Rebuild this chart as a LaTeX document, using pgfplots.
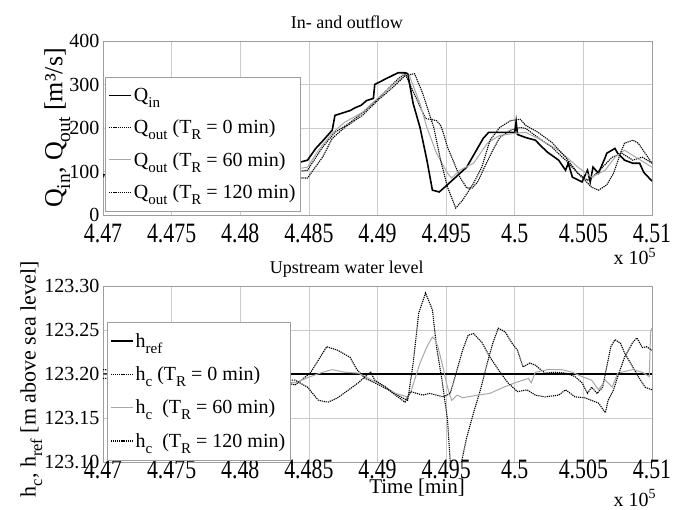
\documentclass[border=0pt]{standalone}
\usepackage{fontspec}
\setmainfont{Liberation Serif}
\newfontfamily\xtfont{Liberation Serif}[FakeStretch=0.78]
\usepackage{pgfplots}
\pgfplotsset{compat=1.18}

\newcommand{\sub}[1]{\raisebox{-0.3em}{\scalebox{0.75}{#1}}}
\newcommand{\fs}[1]{\fontsize{#1}{#1}\selectfont}

\definecolor{gridc}{gray}{0.80}
\definecolor{boxc}{gray}{0.62}
\definecolor{linegray}{gray}{0.66}

\pgfplotsset{
 common/.style={
  scale only axis, width=549bp,
  xmin=4.47, xmax=4.51,
  xtick={4.47,4.475,4.48,4.485,4.49,4.495,4.5,4.505,4.51},
  xticklabels={4.47,4.475,4.48,4.485,4.49,4.495,4.5,4.505,4.51},
  grid=major, grid style={gridc, line width=0.6bp},
  axis line style={boxc, line width=0.6bp},
  major tick length=0pt,
  xticklabel style={font=\xtfont\fs{28bp}},
  yticklabel style={font=\fs{20bp}},
  title style={font=\fs{18bp}, at={(0.444,1)}, anchor=base, yshift=7bp},
  legend cell align=left,
  legend style={draw=boxc, fill=white, font=\fs{20bp}, row sep=13bp, inner xsep=3bp, inner ysep=9bp},
  legend image code/.code={\draw[##1] (0bp,0bp) -- (22bp,0bp);},
 },
 qin/.style={black, line width=1.6bp},
 dots/.style={black, line width=1.1bp, dash pattern=on 1.2bp off 0.9bp},
 grayl/.style={linegray, line width=1bp},
}

\begin{document}
\begin{tikzpicture}
%================ TOP =================
\begin{axis}[common,
  at={(103bp,295bp)}, anchor=south west, height=174bp,
  ymin=0, ymax=400,
  ytick={0,100,200,300,400}, yticklabels={0,100,200,300,400},
  xticklabel style={yshift=-5.3bp},
  title={In- and outflow},
  ylabel={Q\sub{in}, Q\sub{out} [m³/s]},
  ylabel style={font=\fs{26bp}, at={(axis description cs:-0.053,0.5)}, anchor=south},
  legend style={at={(0.004,0.793)}, anchor=north west},
]
\addplot[qin] table {
4.4700 92
4.4730 95
4.4780 100
4.4830 110
4.4849 126
4.4855 153
4.4860 170
4.4867 195
4.4869 229
4.4876 236
4.4880 240
4.4884 247
4.4888 252
4.4892 263
4.4897 268
4.4898 300
4.4906 313
4.4915 327
4.4920 327
4.4922 325
4.4926 256
4.4931 201
4.4936 126
4.4940 57
4.4945 53
4.4949 64
4.4965 110
4.4977 176
4.4981 190
4.5000 190
4.5001 215
4.5002 185
4.5008 178
4.5015 172
4.5020 156
4.5024 144
4.5032 126
4.5037 103
4.5039 119
4.5042 87
4.5049 76
4.5053 103
4.5055 76
4.5057 110
4.5061 96
4.5066 133
4.5067 142
4.5073 153
4.5075 142
4.5080 126
4.5086 119
4.5091 119
4.5094 98
4.5100 78
};
\addlegendentry{Q\sub{in}}
\addplot[dots] table {
4.4700 88
4.4830 95
4.4849 103
4.4860 156
4.4869 190
4.4879 210
4.4891 240
4.4903 275
4.4915 313
4.4920 325
4.4935 222
4.4943 217
4.4946 206
4.4948 188
4.4951 156
4.4955 126
4.4960 87
4.4965 62
4.4969 62
4.4973 76
4.4978 110
4.4984 149
4.4989 178
4.4997 195
4.5004 201
4.5008 199
4.5017 178
4.5027 156
4.5037 126
4.5046 96
4.5053 80
4.5056 85
4.5064 110
4.5071 133
4.5078 142
4.5086 126
4.5093 133
4.5100 119
};
\addlegendentry{Q\sub{out} (T\sub{R} = 0 min)}
\addplot[grayl] table {
4.4700 90
4.4830 100
4.4849 110
4.4857 149
4.4867 188
4.4876 213
4.4889 236
4.4900 268
4.4913 304
4.4920 320
4.4923 322
4.4931 256
4.4936 201
4.4943 142
4.4951 96
4.4954 85
4.4960 103
4.4970 119
4.4980 165
4.4989 183
4.5001 188
4.5008 190
4.5017 176
4.5032 149
4.5046 110
4.5056 87
4.5066 103
4.5073 133
4.5080 149
4.5088 133
4.5100 110
};
\addlegendentry{Q\sub{out} (T\sub{R} = 60 min)}
\addplot[dots] table {
4.4700 90
4.4780 88
4.4830 85
4.4849 85
4.4860 133
4.4867 176
4.4876 201
4.4889 229
4.4900 263
4.4911 293
4.4920 320
4.4927 325
4.4933 279
4.4941 201
4.4946 126
4.4951 64
4.4957 16
4.4962 34
4.4970 73
4.4976 110
4.4982 172
4.4989 201
4.4997 217
4.5004 220
4.5008 206
4.5017 190
4.5027 167
4.5037 133
4.5046 96
4.5056 64
4.5061 57
4.5067 69
4.5072 96
4.5077 142
4.5080 165
4.5086 172
4.5090 165
4.5095 142
4.5100 119
};
\addlegendentry{Q\sub{out} (T\sub{R} = 120 min)}
\end{axis}
%================ BOTTOM =================
\begin{axis}[common,
  at={(103bp,48bp)}, anchor=south west, height=176bp,
  ymin=123.10, ymax=123.30,
  ytick={123.10,123.15,123.20,123.25,123.30},
  yticklabels={123.10,123.15,123.20,123.25,123.30},
  xticklabel style={yshift=5.5bp},
  title={Upstream water level},
  ylabel={h\sub{c}, h\sub{ref} [m above sea level]},
  ylabel style={font=\fs{22bp}, at={(axis description cs:-0.104,0.47)}, anchor=south},
  legend style={at={(0.007,0.795)}, anchor=north west, row sep=14bp},
]
\addplot[qin] table {
4.4700 123.20
4.5100 123.20
};
\addlegendentry{h\sub{ref}}
\addplot[dots] table {
4.4700 123.205
4.4760 123.200
4.4820 123.195
4.4840 123.1875
4.4851 123.201
4.4863 123.231
4.4871 123.227
4.4880 123.219
4.4885 123.205
4.4891 123.195
4.4898 123.190
4.4908 123.182
4.4918 123.173
4.4922 123.170
4.4926 123.2125
4.4930 123.269
4.4935 123.292
4.4940 123.273
4.4943 123.231
4.4947 123.193
4.4951 123.148
4.4953 123.100
4.4956 123.070
4.4959 123.080
4.4962 123.106
4.4965 123.128
4.4970 123.156
4.4975 123.182
4.4980 123.2125
4.4984 123.235
4.4988 123.252
4.4993 123.248
4.4998 123.235
4.5002 123.227
4.5006 123.208
4.5011 123.2125
4.5015 123.210
4.5022 123.201
4.5029 123.202
4.5037 123.201
4.5044 123.197
4.5049 123.190
4.5053 123.178
4.5056 123.185
4.5060 123.178
4.5064 123.185
4.5067 123.208
4.5070 123.231
4.5073 123.239
4.5077 123.235
4.5080 123.224
4.5086 123.208
4.5090 123.197
4.5095 123.185
4.5100 123.182
};
\addlegendentry{h\sub{c} (T\sub{R} = 0 min)}
\addplot[grayl] table {
4.4700 123.200
4.4840 123.190
4.4851 123.197
4.4860 123.202
4.4867 123.205
4.4876 123.202
4.4886 123.201
4.4896 123.193
4.4906 123.185
4.4913 123.178
4.4922 123.174
4.4924 123.178
4.4927 123.193
4.4931 123.2125
4.4936 123.231
4.4940 123.242
4.4942 123.239
4.4944 123.231
4.4947 123.2125
4.4951 123.185
4.4954 123.170
4.4958 123.176
4.4962 123.173
4.4973 123.176
4.4982 123.178
4.4992 123.185
4.5002 123.191
4.5010 123.195
4.5012 123.190
4.5015 123.202
4.5024 123.205
4.5034 123.205
4.5042 123.202
4.5049 123.197
4.5056 123.193
4.5061 123.182
4.5066 123.193
4.5071 123.185
4.5075 123.201
4.5086 123.205
4.5093 123.202
4.5098 123.197
4.5099 123.248
4.5100 123.252
};
\addlegendentry{h\sub{c}\ \ (T\sub{R} = 60 min)}
\addplot[dots] table {
4.4700 123.195
4.4800 123.195
4.4840 123.193
4.4849 123.185
4.4857 123.170
4.4864 123.168
4.4871 123.173
4.4879 123.182
4.4886 123.190
4.4891 123.197
4.4895 123.202
4.4898 123.193
4.4906 123.185
4.4913 123.176
4.4920 123.168
4.4924 123.180
4.4933 123.176
4.4938 123.178
4.4948 123.174
4.4953 123.178
4.4958 123.205
4.4962 123.227
4.4966 123.244
4.4970 123.246
4.4976 123.236
4.4982 123.219
4.4988 123.205
4.4995 123.190
4.5002 123.180
4.5009 123.182
4.5015 123.176
4.5022 123.174
4.5032 123.176
4.5037 123.182
4.5044 123.174
4.5051 123.173
4.5056 123.170
4.5061 123.167
4.5066 123.156
4.5068 123.170
4.5072 123.182
4.5075 123.197
4.5080 123.219
4.5086 123.236
4.5089 123.241
4.5093 123.230
4.5096 123.231
4.5100 123.227
};
\addlegendentry{h\sub{c}\ \ (T\sub{R} = 120 min)}
\end{axis}
\node[anchor=base, font=\fs{21bp}] at (417bp,17bp) {Time [min]};
\node[anchor=base west, font=\fs{20bp}] at (610bp,245bp) {x 10\textsuperscript{5}};
\node[anchor=base west, font=\fs{20bp}] at (610bp,4bp) {x 10\textsuperscript{5}};
\pgfresetboundingbox
\useasboundingbox (0,0) rectangle (685bp,510bp);
\end{tikzpicture}
\end{document}
